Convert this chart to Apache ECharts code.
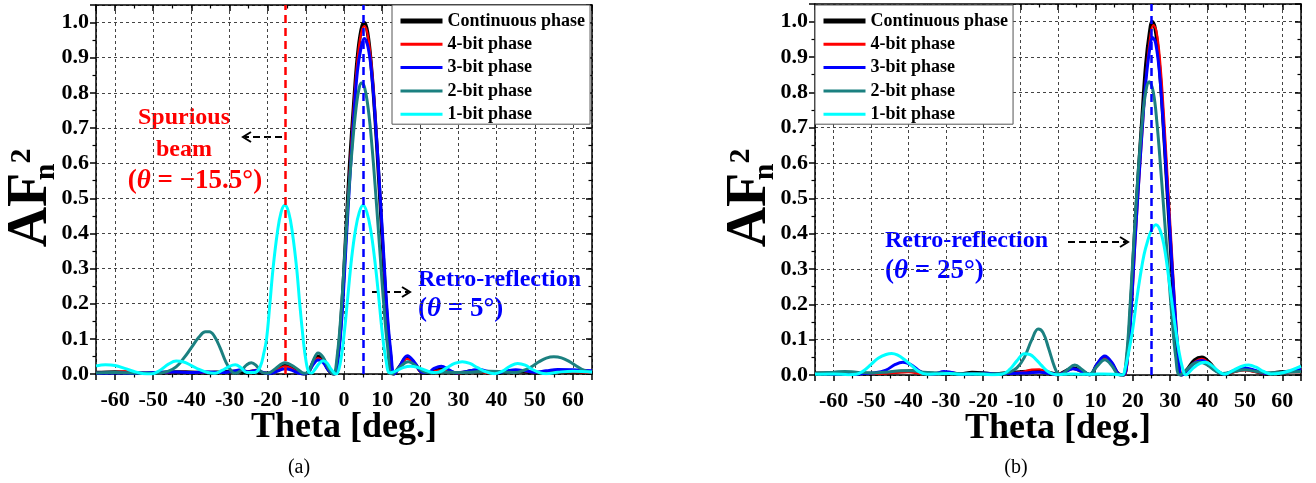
<!DOCTYPE html>
<html>
<head>
<meta charset="utf-8">
<script src="https://cdn.jsdelivr.net/npm/echarts@6/dist/echarts.min.js"></script>
<style>
  html, body { margin: 0; padding: 0; background: #fff; }
  #chart { width: 1316px; height: 483px; }
</style>
</head>
<body>
<div id="chart"></div>
<script>
// legend names
const seriesNames = ['Continuous phase', '4-bit phase', '3-bit phase', '2-bit phase', '1-bit phase']
const seriesColors = ['#000000', '#ff0000', '#0000ff', '#1b8080', '#00ffff']
const seriesWidths = [3.5, 2.2, 3, 3, 3]

// beam directions (deg)
const spuriousA = -15.5
const retroA = 5
const retroB = 25

// (a) steered to 5 deg : [theta, AFn^2]
const contA = [[-65,0.004],[-60,0.006],[-56,0.004],[-52,0.002],[-48,0.004],[-44,0.006],[-40,0.005],[-36,0.004],[-32,0.006],[-28,0.008],[-26,0.004],[-24,0.008],[-22,0.003],[-19.5,0.002],[-17,0.018],[-15.5,0.026],[-14,0.02],[-12,0.006],[-10.5,0],[-9.5,0.003],[-8,0.035],[-6.8,0.05],[-5.5,0.04],[-4,0.01],[-2.6,0],
  [-1.5,0.06],[-0.5,0.2],[0.5,0.4],[1.5,0.6],[2.5,0.76],[3.5,0.9],[4.5,0.98],[5.3,1.0],[6.2,0.97],[7.2,0.87],[8.2,0.72],[9.2,0.54],[10.2,0.35],[11.2,0.17],[12.2,0.05],[13,0],
  [14.5,0.02],[16.5,0.046],[18.5,0.03],[20.5,0.004],[22,0.002],[24,0.01],[26,0.014],[28,0.006],[30,0.002],[32,0.006],[34,0.01],[36,0.008],[38,0.003],[40,0.002],[43,0.006],[46,0.008],[49,0.004],[52,0.003],[56,0.006],[60,0.006],[65,0.004]]
const bit4A = [[-65,0.003],[-60,0.005],[-57,0.008],[-54,0.004],[-50,0.002],[-46,0.004],[-42,0.006],[-38,0.004],[-34,0.003],[-30,0.006],[-27,0.01],[-25,0.006],[-23,0.012],[-21,0.003],[-19.5,0.002],[-17,0.015],[-15.5,0.022],[-14,0.017],[-12,0.005],[-10.5,0],[-9.5,0.003],[-8,0.032],[-6.8,0.045],[-5.5,0.036],[-4,0.01],[-2.6,0],
  [-1.5,0.06],[-0.5,0.19],[0.5,0.39],[1.5,0.58],[2.5,0.75],[3.5,0.89],[4.5,0.97],[5.4,0.99],[6.3,0.96],[7.3,0.87],[8.3,0.72],[9.3,0.54],[10.3,0.35],[11.3,0.17],[12.3,0.05],[13.1,0],
  [14.5,0.018],[16.5,0.043],[18.5,0.028],[20.5,0.004],[22,0.003],[24,0.008],[26,0.012],[28,0.005],[30,0.002],[32,0.005],[34,0.008],[36,0.006],[38,0.002],[40,0.003],[43,0.007],[46,0.01],[49,0.005],[52,0.003],[56,0.005],[60,0.005],[65,0.003]]
const bit3A = [[-65,0.002],[-60,0.003],[-56,0.002],[-52,0.003],[-48,0.005],[-44,0.006],[-40,0.004],[-36,0.006],[-32,0.004],[-29,0.008],[-27,0.012],[-25,0.006],[-23,0.01],[-21,0.004],[-19.5,0.001],[-17,0.01],[-15.5,0.015],[-14,0.012],[-12,0.003],[-10.5,0],[-9.5,0.003],[-8,0.028],[-6.8,0.04],[-5.5,0.033],[-4,0.01],[-2.5,0],
  [-1.5,0.05],[-0.5,0.17],[0.5,0.36],[1.5,0.55],[2.5,0.72],[3.5,0.86],[4.5,0.93],[5.3,0.955],[6.3,0.93],[7.3,0.85],[8.3,0.71],[9.3,0.54],[10.3,0.36],[11.3,0.18],[12.3,0.06],[13.2,0],
  [14.5,0.02],[16.6,0.052],[18.5,0.033],[20.5,0.005],[22,0.004],[23.5,0.015],[25.5,0.022],[27.5,0.012],[29.5,0.003],[31.5,0.006],[33.5,0.01],[35.5,0.013],[37.5,0.008],[40,0.003],[42.5,0.008],[45,0.012],[47.5,0.009],[50,0.005],[53,0.009],[56,0.013],[60,0.012],[65,0.009]]
const bit2A = [[-65,0.003],[-60,0.004],[-56,0.003],[-52,0.002],[-48,0.003],[-46,0.008],[-44,0.02],[-42,0.045],[-40,0.075],[-38,0.105],[-36.3,0.12],[-35.3,0.12],[-34,0.108],[-32.5,0.075],[-31,0.035],[-29.5,0.008],[-28.5,0.002],[-27,0.01],[-25.5,0.026],[-24.3,0.032],[-23,0.024],[-21.5,0.005],[-20,0.002],[-18,0.015],[-15.5,0.032],[-13,0.02],[-11,0.004],[-10,0.002],[-9,0.012],[-8,0.04],[-6.8,0.06],[-5.5,0.048],[-4,0.015],[-2.8,0],
  [-1.8,0.05],[-0.8,0.17],[0.2,0.34],[1.2,0.51],[2.2,0.65],[3.2,0.76],[4.0,0.815],[4.6,0.828],[5.4,0.815],[6.4,0.75],[7.4,0.64],[8.4,0.5],[9.4,0.35],[10.4,0.2],[11.4,0.08],[12.6,0],
  [14.5,0.018],[16.8,0.035],[19,0.022],[21,0.006],[23,0.003],[26,0.006],[30,0.004],[34,0.006],[38,0.008],[42,0.006],[45,0.004],[47,0.01],[49,0.02],[51,0.034],[53,0.045],[55,0.049],[57,0.046],[59,0.036],[61,0.022],[63,0.01],[65,0.005]]
const bit1A = [[-65,0.023],[-62.5,0.026],[-60,0.024],[-57.5,0.016],[-55,0.007],[-52.5,0.001],[-50.5,0],[-48,0.012],[-46,0.028],[-44,0.037],[-42,0.034],[-40,0.024],[-38,0.013],[-36,0.005],[-34,0.002],[-32,0.01],[-30,0.022],[-28.5,0.026],[-27,0.018],[-25.5,0.004],[-23.5,0.004],[-22,0.02],[-21,0.06],[-20.3,0.1],[-19.5,0.19],[-18.6,0.3],[-17.5,0.4],[-16.5,0.46],[-15.5,0.48],[-14.5,0.46],[-13.5,0.4],[-12.4,0.3],[-11.6,0.2],[-10.7,0.1],[-10,0.04],[-9.2,0.005],[-8.5,0.003],[-7.5,0.015],[-6.5,0.03],[-5.5,0.038],[-4.5,0.032],[-3.5,0.015],[-2.5,0.002],
  [-2,0],[-1,0.03],[0,0.11],[1,0.22],[2,0.33],[3,0.41],[4,0.46],[5,0.48],[6,0.46],[7,0.41],[8,0.33],[9,0.23],[10,0.12],[11,0.04],[12,0.003],
  [13.5,0.008],[15.5,0.018],[17.5,0.022],[19.5,0.018],[21.5,0.01],[23.5,0.004],[25,0.006],[27,0.018],[29,0.03],[31,0.035],[33,0.03],[35,0.018],[37,0.007],[39.5,0.001],[41.5,0.008],[43.5,0.022],[45.5,0.03],[47.5,0.025],[49.5,0.012],[51.5,0.003],[53,0.001],[56,0.005],[60,0.008],[65,0.006]]

// (b) steered to 25 deg
const contB = [[-65,0.005],[-60,0.005],[-55,0.006],[-50,0.004],[-46,0.006],[-42,0.01],[-39,0.011],[-36,0.006],[-32,0.004],[-29,0.006],[-26,0.003],[-23,0.007],[-20,0.006],[-17,0.003],[-14,0.006],[-11,0.008],[-8,0.01],[-5,0.012],[-2,0.006],[0,0.001],[1.5,0.008],[4,0.02],[6.5,0.01],[8.5,0.001],[10.5,0.03],[12.5,0.05],[14.5,0.03],[16.3,0.002],
  [17.5,0],[18.5,0.05],[19.5,0.2],[20.5,0.4],[21.5,0.57],[22.5,0.73],[23.5,0.88],[24.5,0.97],[25.2,1.0],[26,0.98],[27,0.89],[28,0.74],[29,0.56],[30,0.38],[31,0.2],[32,0.06],[33,0],
  [34.5,0.015],[36.5,0.042],[38.5,0.05],[40.5,0.035],[42.5,0.012],[44.5,0.002],[47,0.01],[50,0.016],[53,0.01],[56,0.004],[59,0.008],[62,0.01],[65,0.01]]
const bit4B = [[-65,0.003],[-60,0.003],[-55,0.004],[-50,0.003],[-46,0.004],[-42,0.007],[-40,0.008],[-37,0.004],[-33,0.002],[-29,0.004],[-25,0.002],[-21,0.004],[-17,0.002],[-13,0.004],[-10,0.008],[-7,0.015],[-5,0.016],[-3,0.008],[-1,0.001],[1.5,0.007],[4,0.017],[6.5,0.008],[8.5,0.001],[10.5,0.028],[12.5,0.047],[14.5,0.03],[16.5,0.002],
  [17.7,0],[18.7,0.05],[19.7,0.19],[20.7,0.38],[21.7,0.55],[22.7,0.71],[23.7,0.86],[24.7,0.96],[25.5,0.99],[26.3,0.975],[27.3,0.89],[28.3,0.74],[29.3,0.56],[30.3,0.38],[31.3,0.2],[32.3,0.06],[33.3,0],
  [34.7,0.014],[36.7,0.038],[38.5,0.046],[40.5,0.033],[42.5,0.012],[44.5,0.002],[47,0.008],[50,0.013],[53,0.008],[56,0.003],[59,0.006],[62,0.008],[65,0.008]]
const bit3B = [[-65,0.004],[-60,0.003],[-55,0.002],[-52,0.004],[-49,0.006],[-46,0.014],[-43.5,0.03],[-41.5,0.036],[-39.5,0.03],[-37.5,0.015],[-35.5,0.004],[-33,0.003],[-30.5,0.01],[-28.5,0.007],[-26,0.002],[-23,0.003],[-20,0.005],[-17,0.003],[-14,0.004],[-11,0.005],[-8,0.006],[-5,0.008],[-2,0.004],[0,0.001],[1.5,0.006],[4,0.018],[6.5,0.01],[8.5,0.001],[10.5,0.032],[12.5,0.054],[14.5,0.034],[16.3,0.002],
  [17.5,0],[18.5,0.04],[19.5,0.17],[20.5,0.36],[21.5,0.53],[22.5,0.69],[23.5,0.83],[24.5,0.92],[25.3,0.955],[26.1,0.94],[27.1,0.86],[28.1,0.72],[29.1,0.55],[30.1,0.38],[31.1,0.21],[32.1,0.07],[33.1,0],
  [34.5,0.012],[36.5,0.034],[38.5,0.041],[40.5,0.03],[42.5,0.01],[44.5,0.003],[47,0.012],[50,0.02],[53,0.012],[56,0.004],[59,0.006],[62,0.01],[65,0.016]]
const bit2B = [[-65,0.005],[-60,0.008],[-57,0.01],[-54,0.008],[-50,0.006],[-46,0.008],[-42,0.012],[-39,0.012],[-36,0.008],[-33,0.006],[-30,0.005],[-27,0.004],[-24,0.003],[-21,0.004],[-18,0.003],[-15,0.004],[-13,0.008],[-11,0.02],[-9,0.05],[-7,0.1],[-5.3,0.13],[-4,0.12],[-2.5,0.075],[-1,0.025],[0,0.004],[1,0.002],[2.5,0.015],[4.5,0.028],[6.5,0.015],[8.3,0.002],[10.5,0.025],[12.5,0.043],[14.5,0.025],[16,0.002],
  [17.3,0],[18.3,0.05],[19.3,0.2],[20.3,0.38],[21.3,0.55],[22.3,0.69],[23.3,0.79],[24.4,0.83],[25.5,0.8],[26.5,0.71],[27.5,0.58],[28.5,0.44],[29.5,0.3],[30.5,0.16],[31.5,0.05],[32.5,0],
  [34,0.01],[36,0.03],[38,0.036],[40,0.028],[42,0.012],[44,0.004],[47,0.01],[50,0.015],[53,0.01],[56,0.006],[60,0.008],[65,0.01]]
const bit1B = [[-65,0.002],[-60,0.003],[-56,0.001],[-54,0.002],[-52,0.012],[-50,0.03],[-48,0.048],[-46,0.058],[-44.5,0.061],[-43,0.057],[-41,0.043],[-39,0.025],[-37,0.008],[-35,0.002],[-32,0.003],[-29,0.004],[-26,0.002],[-23,0.003],[-20,0.002],[-17,0.001],[-15,0.002],[-13,0.015],[-11,0.04],[-9,0.06],[-7.5,0.058],[-6,0.045],[-4.5,0.028],[-3,0.012],[-1.5,0.003],[0,0.001],[3,0.003],[6,0.002],[9,0.002],[12,0.003],[15,0.002],
  [17.2,0],[18,0.02],[19,0.07],[20,0.13],[21,0.21],[22,0.28],[23,0.34],[24,0.38],[25,0.41],[26.2,0.425],[27.3,0.41],[28.3,0.37],[29.3,0.3],[30.3,0.22],[31.3,0.14],[32.3,0.07],[33.3,0.02],[34.2,0],
  [36,0.018],[38,0.033],[39.5,0.036],[41,0.028],[43,0.01],[44.5,0.002],[47,0.014],[49,0.024],[51,0.028],[53,0.022],[55,0.01],[57,0.003],[59,0.004],[62,0.012],[65,0.025]]

const dataA = [contA, bit4A, bit3A, bit2A, bit1A]
const dataB = [contB, bit4B, bit3B, bit2B, bit1B]

const FONT = 'Liberation Serif'
const chart = echarts.init(document.getElementById('chart'))

const makeX = (gridIndex, main) => ({
    gridIndex,
    type: 'value',
    min: -65,
    max: 65,
    splitNumber: 13,
    position: main ? 'bottom' : 'top',
    name: main ? 'Theta [deg.]' : '',
    nameLocation: 'middle',
    nameGap: 36,
    nameMoveOverlap: false,
    nameTextStyle: { fontFamily: FONT, fontWeight: 'bold', fontSize: 36, color: '#000' },
    axisLine: { show: true, onZero: false, lineStyle: { color: '#000', width: 1.5 } },
    axisTick: { show: true, inside: !main, length: 6, lineStyle: { color: '#000', width: 1.5 } },
    minorTick: { show: true, splitNumber: 2, length: 3.5, lineStyle: { color: '#000', width: 1.2 } },
    axisLabel: {
        show: main, margin: 15, showMinLabel: false, showMaxLabel: false,
        fontFamily: FONT, fontWeight: 'bold', fontSize: 22, color: '#000'
    },
    splitLine: { show: main, lineStyle: { color: '#444', width: 1, type: [3, 3] } }
})

const makeY = (gridIndex, main) => ({
    gridIndex,
    type: 'value',
    min: 0,
    max: 1.05,
    interval: 0.1,
    position: main ? 'left' : 'right',
    axisLine: { show: true, onZero: false, lineStyle: { color: '#000', width: 1.5 } },
    axisTick: { show: true, inside: !main, length: 6, lineStyle: { color: '#000', width: 1.5 } },
    minorTick: { show: true, splitNumber: 2, length: 3.5, lineStyle: { color: '#000', width: 1.2 } },
    axisLabel: {
        show: main, margin: 7, showMaxLabel: false,
        formatter: v => v.toFixed(1),
        fontFamily: FONT, fontWeight: 'bold', fontSize: 22, color: '#000'
    },
    splitLine: { show: main, lineStyle: { color: '#444', width: 1, type: [3, 3] } }
})

const makeSeries = (sets, axisIndex, marks) => sets.map((d, i) => ({
    name: seriesNames[i],
    type: 'line',
    xAxisIndex: axisIndex,
    yAxisIndex: axisIndex,
    data: d,
    smooth: 0.4,
    symbol: 'none',
    lineStyle: { color: seriesColors[i], width: seriesWidths[i] },
    itemStyle: { color: seriesColors[i] },
    markLine: i === sets.length - 1 ? {
        silent: true,
        symbol: 'none',
        label: { show: false },
        data: marks.map(m => ({ xAxis: m.x, lineStyle: { color: m.color, width: 2.5, type: [8, 5] } }))
    } : undefined
}))

const makeLegend = (left) => ({
    orient: 'vertical',
    left, top: 5,
    padding: [7, 5, 1, 6],
    backgroundColor: '#fff',
    borderColor: '#555',
    borderWidth: 1,
    itemWidth: 42,
    itemHeight: 14,
    itemGap: 5.3,
    itemStyle: { opacity: 0 },
    data: seriesNames.map((name, i) => ({ name, lineStyle: { width: i === 0 ? 5 : 3 } })),
    textStyle: { fontFamily: FONT, fontWeight: 'bold', fontSize: 18, lineHeight: 18, color: '#000' }
})

const txt = (x, y, text, color, size, align, extra) => Object.assign({
    type: 'text', x, y,
    style: {
        text, fill: color, fontFamily: FONT, fontWeight: 'bold', fontSize: size,
        align: align || 'center', verticalAlign: 'middle',
        rich: { i: { fontFamily: FONT, fontWeight: 'bold', fontStyle: 'italic', fontSize: size, fill: color } }
    }
}, extra || {})

const arrow = (x1, x2, y) => {
    const dir = x2 > x1 ? 1 : -1
    return [
        { type: 'line', shape: { x1, y1: y, x2: x2 - dir * 2, y2: y }, style: { stroke: '#000', lineWidth: 2, lineDash: [7, 4] } },
        { type: 'polyline', shape: { points: [[x2 - dir * 8, y - 5], [x2, y], [x2 - dir * 8, y + 5]] }, style: { stroke: '#000', lineWidth: 2, fill: null } }
    ]
}

const yTitle = (dx) => [
    txt(32 + dx, 210, 'AF', '#000', 56, 'center', { rotation: Math.PI / 2 }),
    txt(46 + dx, 172, 'n', '#000', 30, 'center', { rotation: Math.PI / 2 }),
    txt(22 + dx, 156, '2', '#000', 30, 'center', { rotation: Math.PI / 2 })
]

const plain = (x, y, text) => ({
    type: 'text', x, y,
    style: { text, fontFamily: FONT, fontSize: 20, fill: '#000', align: 'center', verticalAlign: 'middle' }
})

const graphics = [].concat(
    yTitle(0),
    yTitle(719),
    [
        txt(184, 118, 'Spurious', '#ff0000', 24),
        txt(184, 150, 'beam', '#ff0000', 24),
        txt(195, 181, '({i|θ} = −15.5°)', '#ff0000', 27),
        txt(418, 280, 'Retro-reflection', '#0000ff', 24, 'left'),
        txt(418, 309, '({i|θ} = 5°)', '#0000ff', 27, 'left'),
        txt(885, 241, 'Retro-reflection', '#0000ff', 24, 'left'),
        txt(885, 271, '({i|θ} = 25°)', '#0000ff', 27, 'left'),
        plain(299, 468, '(a)'),
        plain(1016, 468, '(b)')
    ],
    arrow(282, 243, 137),
    arrow(372, 410, 292),
    arrow(1068, 1128, 242)
)

const option = {
    animation: false,
    backgroundColor: '#fff',
    grid: [
        { left: 96, top: 5, width: 496, height: 369 },
        { left: 815, top: 4, width: 486, height: 371 }
    ],
    xAxis: [makeX(0, true), makeX(0, false), makeX(1, true), makeX(1, false)],
    yAxis: [makeY(0, true), makeY(0, false), makeY(1, true), makeY(1, false)],
    legend: [makeLegend(392), makeLegend(815)],
    series: [].concat(
        makeSeries(dataA, 0, [{ x: spuriousA, color: '#ff0000' }, { x: retroA, color: '#0000ff' }]),
        makeSeries(dataB, 2, [{ x: retroB, color: '#0000ff' }])
    ),
    graphic: graphics
}
chart.setOption(option)
</script>
</body>
</html>
